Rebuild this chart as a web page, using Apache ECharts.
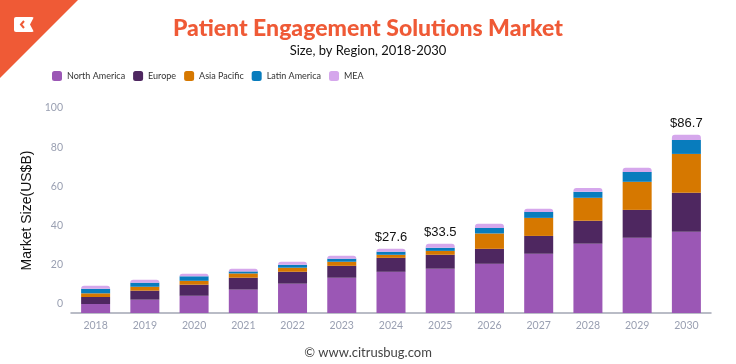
<!DOCTYPE html>
<html>
<head>
<meta charset="utf-8">
<script src="https://cdn.jsdelivr.net/npm/echarts@6/dist/echarts.min.js"></script>
<style>html,body{margin:0;padding:0;background:#fff}#c{width:736px;height:364px}</style>
</head>
<body>
<div id="c"></div>
<script>
var categories = ['2018','2019','2020','2021','2022','2023','2024','2025','2026','2027','2028','2029','2030'];
var northAmerica = [4.4, 6.5, 8.4, 11.4, 14.3, 17.2, 20.1, 21.6, 24.0, 28.9, 33.8, 36.7, 39.6];
var europe       = [3.4, 4.4, 5.4, 5.8, 5.8, 5.8, 6.8, 6.8, 7.3, 8.7, 11.2, 13.6, 19.0];
var asiaPacific  = [1.8, 1.9, 1.9, 2.1, 2.0, 2.0, 1.5, 1.9, 7.5, 8.8, 11.2, 13.7, 19.0];
var latinAmerica = [2.2, 2.0, 2.2, 1.0, 1.4, 1.5, 1.5, 1.5, 2.7, 2.9, 2.9, 4.8, 6.8];
var mea          = [1.5, 1.4, 1.3, 1.3, 1.5, 1.4, 1.4, 2.0, 2.0, 1.5, 1.9, 2.0, 2.5];
var totalLabels  = ['', '', '', '', '', '', '$27.6', '$33.5', '', '', '', '', '$86.7'];
var yTicks = [0, 20, 40, 60, 80, 100];

var colors = ['#9b57b5', '#4e2760', '#d67800', '#087cbd', '#d5a7ec'];
var font = 'Lato, "Noto Sans", sans-serif';

var chart = echarts.init(document.getElementById('c'));
function bar(name, data, idx, extra) {
  var s = {
    name: name, type: 'bar', stack: 'total', data: data, barWidth: 29,
    xAxisIndex: 0, yAxisIndex: 0,
    itemStyle: { color: colors[idx] },
    emphasis: { disabled: true }
  };
  if (extra) Object.assign(s, extra);
  return s;
}
chart.setOption({
  animation: false,
  textStyle: { fontFamily: font },
  title: [{
    text: 'Patient Engagement Solutions Market',
    subtext: 'Size, by Region, 2018-2030',
    left: 'center', top: 12, itemGap: 4,
    textStyle: { fontFamily: font, fontSize: 23, fontWeight: 900, color: '#ef5a36' },
    subtextStyle: { fontFamily: font, fontSize: 13, color: '#111' }
  }, {
    text: '© www.citrusbug.com',
    left: 'center', top: 341,
    textStyle: { fontFamily: font, fontSize: 13, fontWeight: 'normal', color: '#444' }
  }],
  legend: {
    left: 47, top: 66, itemWidth: 10, itemHeight: 10, itemGap: 8,
    icon: 'roundRect',
    textStyle: { fontFamily: font, fontSize: 9, color: '#333' },
    data: ['North America', 'Europe', 'Asia Pacific', 'Latin America', 'MEA']
  },
  grid: { left: 71, right: 25, top: 108, bottom: 51, containLabel: false },
  xAxis: {
    type: 'category', data: categories,
    axisTick: { show: false },
    axisLine: { lineStyle: { color: '#a3a6b4', width: 1.5 } },
    axisLabel: { color: '#9aa0b2', fontSize: 10.5, margin: 7, fontFamily: font }
  },
  yAxis: [{
    type: 'value', min: 0, max: 100,
    axisLabel: { show: false }, axisLine: { show: false },
    axisTick: { show: false }, splitLine: { show: false }
  }, {
    type: 'value', min: -4.6, max: 100, position: 'left',
    name: 'Market Size(US$B)', nameLocation: 'middle', nameGap: 33,
    nameTextStyle: { fontFamily: '"Liberation Sans", Arial, sans-serif', fontSize: 14, color: '#111' },
    axisLine: { show: false }, axisTick: { show: false }, splitLine: { show: false },
    axisLabel: { customValues: yTicks, color: '#9aa0b2', fontSize: 10.5, margin: 8, fontFamily: font }
  }],
  series: [
    bar('North America', northAmerica, 0),
    bar('Europe', europe, 1),
    bar('Asia Pacific', asiaPacific, 2),
    bar('Latin America', latinAmerica, 3),
    bar('MEA', mea, 4, {
      itemStyle: { color: colors[4], borderRadius: [3, 3, 0, 0] },
      label: {
        show: true, position: 'top', distance: 5,
        fontFamily: '"Liberation Sans", Arial, sans-serif', fontSize: 13, color: '#111',
        formatter: function (p) { return totalLabels[p.dataIndex]; }
      }
    })
  ],
  graphic: [
    { type: 'polygon', shape: { points: [[0, 0], [78, 0], [0, 78]] }, style: { fill: '#ef5a36' }, silent: true },
    { type: 'rect', shape: { x: 14, y: 17, width: 20, height: 15, r: 2 }, style: { fill: '#fff' }, silent: true },
    { type: 'polygon', shape: { points: [[34, 17], [30, 24.5], [34, 32]] }, style: { fill: '#ef5a36' }, silent: true },
    { type: 'polyline', shape: { points: [[24, 21], [21, 24.5], [24, 28]] }, style: { stroke: '#ef5a36', lineWidth: 2, fill: null }, silent: true }
  ]
});
</script>
</body>
</html>
